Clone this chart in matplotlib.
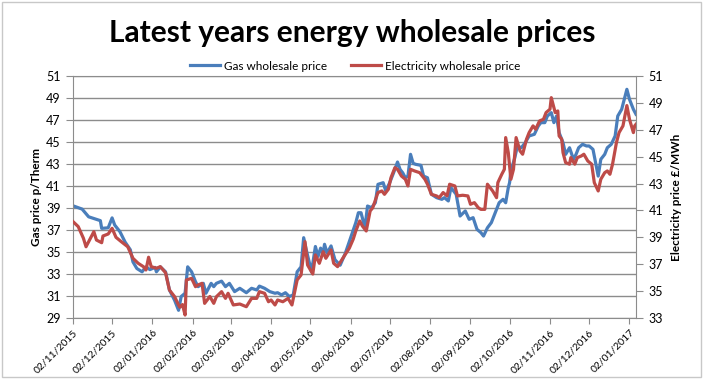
import matplotlib
matplotlib.use('Agg')
import matplotlib.pyplot as plt
import pandas as pd
from matplotlib.patches import Rectangle

plt.rcParams['font.family'] = ['Lato', 'DejaVu Sans']

TITLE = 'Latest years energy wholesale prices'
START = '2015-11-02'
END_DAY = 432

# day offsets from START and prices
gas_day = [0, 7, 12, 21, 22, 27, 30, 32, 36, 40,
           44, 46, 49, 53, 56, 59, 63, 64, 67, 71,
           74, 78, 81, 83, 86, 88, 91, 94, 96, 100,
           102, 106, 108, 110, 114, 117, 120, 124, 128, 133,
           137, 141, 143, 147, 151, 155, 157, 160, 163, 166,
           169, 172, 175, 177, 179, 183, 186, 188, 190, 192,
           193, 195, 198, 201, 205, 209, 212, 217, 219, 221,
           224, 226, 229, 232, 234, 238, 240, 243, 246, 249,
           251, 253, 255, 257, 259, 261, 263, 267, 269, 272,
           275, 279, 283, 285, 288, 290, 294, 297, 301, 304,
           307, 310, 313, 315, 318, 321, 325, 327, 330, 332,
           334, 335, 336, 339, 341, 344, 347, 350, 354, 357,
           359, 362, 364, 367, 369, 371, 373, 376, 378, 381,
           384, 386, 388, 391, 394, 396, 399, 401, 403, 405,
           408, 410, 413, 416, 418, 421, 423, 425, 427, 430,
           432]
gas_price = [39.2, 38.9, 38.2, 37.85, 37.15, 37.2, 38.1, 37.45, 36.85, 35.9,
             35.2, 34.1, 33.5, 33.2, 33.65, 33.4, 33.6, 33.2, 33.65, 33.2,
             31.55, 30.6, 29.7, 30.95, 31.25, 33.65, 33.2, 32.3, 31.85, 32.15,
             31.25, 32.15, 31.85, 32.15, 32.35, 31.85, 32.15, 31.4, 31.7, 31.3,
             31.7, 31.55, 31.9, 31.7, 31.4, 31.25, 31.3, 31.1, 31.3, 30.95,
             31.1, 33.2, 33.65, 36.3, 35.2, 33.2, 35.5, 34.6, 35.35, 34.9,
             35.7, 34.9, 35.55, 34.3, 33.8, 34.9, 35.95, 37.67, 38.57, 38.57,
             37.2, 39.18, 39.03, 39.48, 41.15, 41.3, 40.55, 41.3, 42.2, 43.18,
             42.5, 42.2, 41.75, 41.9, 43.88, 43.06, 42.97, 42.88, 41.9, 41.75,
             40.25, 39.94, 39.79, 39.94, 39.64, 40.85, 40.25, 38.27, 38.73, 37.97,
             38.12, 37.06, 36.76, 36.45, 37.2, 37.67, 38.88, 39.48, 39.79, 39.48,
             40.85, 41.3, 42.36, 43.57, 44.64, 44.48, 44.94, 45.55, 45.7, 46.45,
             46.76, 46.76, 47.36, 47.67, 46.76, 47.36, 45.85, 44.94, 43.88, 44.48,
             43.43, 43.88, 44.48, 44.79, 44.64, 44.64, 44.33, 43.12, 41.9, 43.43,
             43.88, 44.48, 44.79, 45.55, 47.36, 47.97, 48.88, 49.79, 48.88, 47.97,
             47.52]

elec_day = [0, 4, 8, 10, 16, 18, 22, 23, 27, 30,
            33, 37, 42, 46, 50, 54, 56, 58, 60, 64,
            67, 71, 74, 78, 81, 82, 84, 86, 87, 91,
            94, 96, 99, 101, 105, 108, 110, 114, 117, 119,
            123, 128, 133, 137, 141, 143, 147, 150, 152, 155,
            157, 161, 165, 168, 172, 175, 178, 180, 184, 186,
            189, 192, 194, 198, 200, 203, 207, 212, 215, 217,
            220, 222, 225, 228, 230, 234, 237, 239, 242, 244,
            247, 249, 252, 255, 257, 259, 262, 266, 270, 272,
            275, 279, 281, 284, 287, 289, 293, 295, 299, 303,
            305, 308, 311, 313, 316, 318, 322, 325, 326, 329,
            331, 332, 334, 336, 338, 340, 343, 345, 348, 350,
            353, 355, 358, 361, 363, 366, 367, 370, 372, 373,
            375, 376, 378, 381, 382, 385, 387, 390, 392, 395,
            398, 400, 403, 405, 408, 410, 412, 414, 417, 419,
            422, 425, 427, 430, 431, 432]
elec_price = [40.17, 39.8, 38.93, 38.3, 39.42, 38.8, 38.6, 39.1, 39.25, 39.67,
              39.0, 38.68, 38.3, 37.44, 37.07, 36.82, 36.57, 37.52, 36.82, 36.7,
              36.82, 36.37, 35.08, 34.58, 33.97, 33.8, 34.0, 33.22, 35.83, 35.95,
              35.33, 35.46, 35.58, 34.09, 34.6, 34.09, 34.58, 34.96, 34.46, 34.84,
              33.97, 34.04, 33.84, 34.46, 34.46, 34.96, 34.84, 34.21, 34.34, 33.97,
              34.34, 34.21, 34.46, 33.97, 35.83, 36.2, 38.68, 36.94, 36.27, 37.69,
              37.07, 37.93, 37.44, 38.06, 37.07, 36.82, 37.44, 38.19, 38.86, 39.47,
              40.22, 39.85, 39.47, 40.96, 41.2, 42.33, 42.45, 42.2, 42.58, 43.44,
              44.18, 44.06, 43.56, 43.32, 42.82, 44.06, 43.94, 43.81, 43.32, 42.95,
              42.2, 42.08, 41.95, 42.33, 42.08, 42.95, 42.82, 42.08, 42.13, 42.08,
              41.46, 41.58, 41.2, 41.08, 41.08, 42.95, 42.45, 41.95, 43.07, 43.69,
              44.06, 46.42, 45.3, 43.32, 44.06, 46.42, 45.43, 45.18, 46.3, 46.79,
              47.29, 47.04, 47.66, 47.78, 48.28, 48.53, 49.39, 48.28, 48.4, 46.54,
              46.3, 45.3, 44.56, 44.44, 44.93, 44.44, 44.93, 45.05, 45.18, 44.68,
              44.44, 43.07, 42.45, 43.32, 43.81, 43.94, 43.69, 44.44, 46.05, 46.79,
              47.29, 48.8, 47.78, 46.79, 47.29, 47.41]

tick_labels = ['02/11/2015', '02/12/2015', '02/01/2016', '02/02/2016', '02/03/2016',
               '02/04/2016', '02/05/2016', '02/06/2016', '02/07/2016', '02/08/2016',
               '02/09/2016', '02/10/2016', '02/11/2016', '02/12/2016', '02/01/2017']
gas_ticks = [29, 31, 33, 35, 37, 39, 41, 43, 45, 47, 49, 51]
elec_ticks = [33, 35, 37, 39, 41, 43, 45, 47, 49, 51]

GAS_C = '#4A7EBB'
ELEC_C = '#BE4B48'
GRID_C = '#8C8C8C'

start = pd.Timestamp(START)
gas_dates = start + pd.to_timedelta(gas_day, unit='D')
elec_dates = start + pd.to_timedelta(elec_day, unit='D')
tick_dates = pd.to_datetime(tick_labels, format='%d/%m/%Y')

W, H = 704, 379
fig = plt.figure(figsize=(W / 100, H / 100), dpi=100)
ax = fig.add_axes([73 / W, 1 - 318 / H, (636 - 73) / W, (318 - 76) / H])
ax2 = ax.twinx()

l1, = ax.plot(gas_dates, gas_price, color=GAS_C, lw=2.3, label='Gas wholesale price',
              solid_joinstyle='round')
l2, = ax2.plot(elec_dates, elec_price, color=ELEC_C, lw=2.3,
               label='Electricity wholesale price', solid_joinstyle='round')

ax.set_xlim(start, start + pd.Timedelta(days=END_DAY))
ax.set_ylim(29, 51)
ax.set_yticks(gas_ticks)
ax2.set_ylim(33, 51)
ax2.set_yticks(elec_ticks)
ax.set_xticks(tick_dates)
ax.set_xticklabels(tick_labels, rotation=45, ha='right', va='top',
                   rotation_mode='anchor', fontsize=7.5)
ax.grid(axis='y', color=GRID_C, lw=1)
ax.set_axisbelow(True)

for sp in ['left', 'bottom', 'top']:
    ax.spines[sp].set_color(GRID_C)
ax.spines['right'].set_visible(False)
for sp in ['left', 'bottom', 'top']:
    ax2.spines[sp].set_visible(False)
ax2.spines['right'].set_color(GRID_C)

ax.tick_params(axis='y', colors=GRID_C, labelcolor='black', labelsize=9, length=5, pad=4)
ax.tick_params(axis='x', colors=GRID_C, labelcolor='black', length=4, pad=3)
ax2.tick_params(axis='y', colors=GRID_C, labelcolor='black', labelsize=9, length=5, pad=4)

fig.text(37 / W, 1 - 197 / H, 'Gas price p/Therm', rotation=90, ha='center', va='center',
         fontsize=8.5, fontweight='bold')
fig.text(676 / W, 1 - 197 / H, 'Electricity price £/MWh', rotation=90, ha='center',
         va='center', fontsize=8.5, fontweight='bold')

fig.text(0.5, 1 - 33 / H, TITLE, ha='center', va='center', fontsize=21.5, fontweight='bold')

fig.legend(handles=[l1, l2], loc='center', bbox_to_anchor=(355 / W, 1 - 66 / H), ncol=2,
           frameon=False, fontsize=8.5, handlelength=2.6, handletextpad=0.3,
           columnspacing=2.0, borderpad=0)

fig.patches.append(Rectangle((2 / W, 2 / H), (W - 5) / W, (H - 4) / H,
                             transform=fig.transFigure, fill=False,
                             edgecolor='#C8C8C8', lw=1))

fig.savefig('out.png', dpi=100)
